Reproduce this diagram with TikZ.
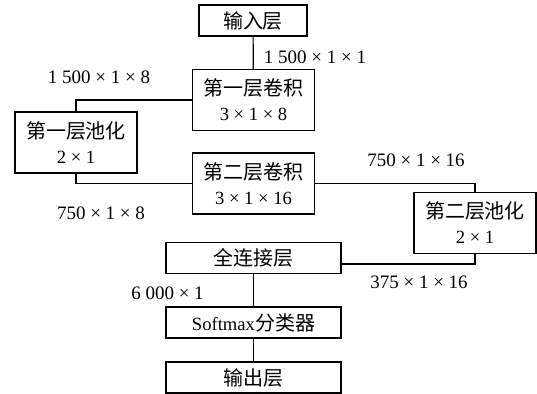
\documentclass[tikz,border=0pt]{standalone}
\usepackage{fontspec}
\setmainfont{Liberation Serif}
\newfontfamily\cjk{Noto Sans CJK SC}
\newcommand{\zh}[1]{{\cjk\fontsize{10}{12.5}\selectfont #1}}
\tikzset{
    layer/.style={draw, inner sep=0pt, align=center, font=\fontsize{9.3}{12.5}\selectfont},
    thinlayer/.style={layer, minimum width=87.5pt, minimum height=15.5pt},
    widelayer/.style={layer, minimum width=61pt, minimum height=30.5pt},
    dimlabel/.style={inner sep=0pt, font=\fontsize{9.5}{11}\selectfont},
}
\begin{document}
\begin{tikzpicture}[x=0.5pt, y=-0.5pt, line width=0.6pt]
                        \useasboundingbox (0,0) rectangle (537,394);
                        % Layers:
                        \node[layer, minimum width=54pt, minimum height=15.5pt] (inp) at (253,20.5) {\zh{输入层}};
                        \node[widelayer] (conv1) at (253.5,100) {\zh{第一层卷积}\\3 × 1 × 8};
                        \node[widelayer] (pool1) at (76,142.5) {\zh{第一层池化}\\2 × 1};
                        \node[widelayer] (conv2) at (253.5,183.5) {\zh{第二层卷积}\\3 × 1 × 16};
                        \node[widelayer] (pool2) at (475,223) {\zh{第二层池化}\\2 × 1};
                        \node[thinlayer] (fc) at (253.5,258) {\zh{全连接层}};
                        \node[thinlayer] (soft) at (253.5,322.5) {Softmax\zh{分类器}};
                        \node[thinlayer] (out) at (253.5,377.5) {\zh{输出层}};

                        % Connections:
                        \draw (inp) -- (conv1);
                        \draw (conv1.west) -| (pool1.north);
                        \draw (pool1.south) |- (conv2.west);
                        \draw (conv2.east) -| (pool2.north);
                        \draw (pool2.south) |- ([yshift=-3pt]fc.east);
                        \draw (fc) -- (soft);
                        \draw (soft) -- (out);

                        % Sizes:
                        \node[dimlabel] (d1) at (315,57) {1 500 × 1 × 1};
                        \node[dimlabel] (d2) at (99,77) {1 500 × 1 × 8};
                        \node[dimlabel] (d3) at (101,213) {750 × 1 × 8};
                        \node[dimlabel] (d4) at (416,160) {750 × 1 × 16};
                        \node[dimlabel] (d5) at (419,282) {375 × 1 × 16};
                        \node[dimlabel] (d6) at (167.5,293) {6 000 × 1};
                    \end{tikzpicture}
\end{document}
